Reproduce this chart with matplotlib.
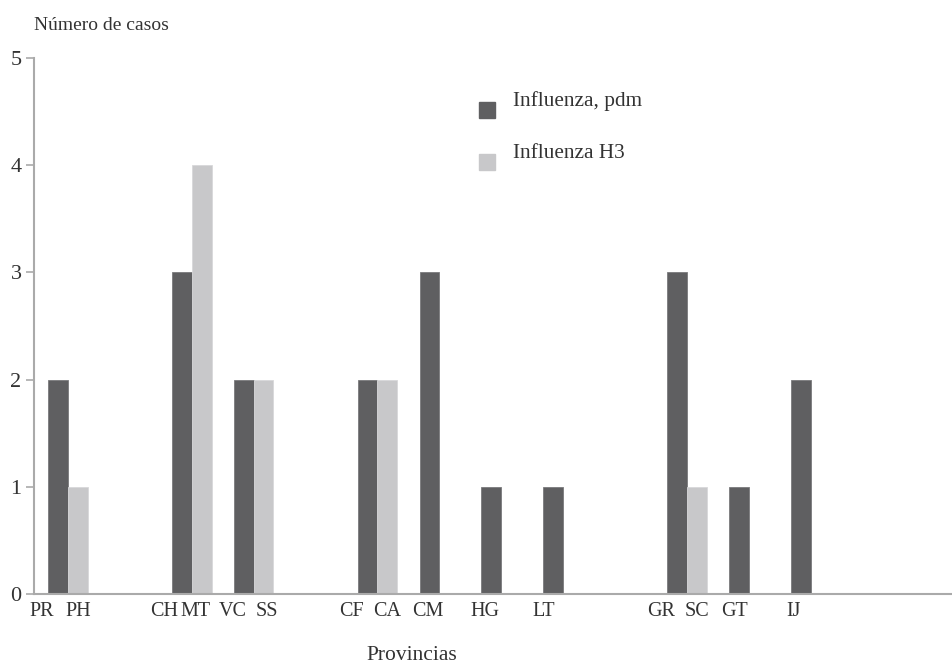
import matplotlib
matplotlib.use("Agg")
import matplotlib.pyplot as plt
from matplotlib.patches import Rectangle

plt.rcParams['font.family'] = ['Liberation Serif', 'DejaVu Serif']

# Data
group_pos = [0, 2, 3, 5, 6, 7, 8, 10, 11, 12]
pdm = [2, 3, 2, 2, 3, 1, 1, 3, 1, 2]
h3 = [1, 4, 2, 2, 0, 0, 0, 1, 0, 0]
tick_labels = ["PR", "PH", "CH", "MT", "VC", "SS", "CF", "CA", "CM", "HG", "LT", "GR", "SC", "GT", "IJ"]
tick_pos = [-0.42, 0.16, 1.55, 2.06, 2.66, 3.21, 4.58, 5.15, 5.82, 6.74, 7.69, 9.58, 10.16, 10.77, 11.73]
series_names = ["Influenza, pdm", "Influenza H3"]

dark = "#5f5f61"
light = "#c8c8ca"
axis_col = "#aaaaaa"
text_col = "#333333"

W, H = 953, 666
fig = plt.figure(figsize=(W / 100, H / 100), dpi=100)
ax = fig.add_axes([34 / W, 1 - 594 / H, 1 - 34 / W, (594 - 58) / H])

bw = 0.32
ax.bar([p - bw / 2 for p in group_pos], pdm, width=bw, color=dark, edgecolor="#7a7a7c", linewidth=0.6, zorder=2)
hx = [p + bw / 2 for p, v in zip(group_pos, h3) if v > 0]
hv = [v for v in h3 if v > 0]
ax.bar(hx, hv, width=bw, color=light, edgecolor="#d8d8da", linewidth=0.6, zorder=2)

ax.set_xlim(-0.55, 14.3)
ax.set_ylim(0, 5)
ax.set_yticks([0, 1, 2, 3, 4, 5])
ax.set_xticks(tick_pos)
ax.set_xticklabels(tick_labels)
ax.tick_params(axis='x', length=0, pad=6, labelsize=14.5, labelcolor=text_col)
ax.tick_params(axis='y', length=6, width=1.2, color=axis_col, pad=3, labelsize=16, labelcolor=text_col)
for s in ["top", "right"]:
    ax.spines[s].set_visible(False)
for s in ["left", "bottom"]:
    ax.spines[s].set_color(axis_col)
    ax.spines[s].set_linewidth(1.5)

fig.text(34 / W, 1 - 25 / H, "Número de casos", fontsize=14, color=text_col, va="center", ha="left")
fig.text(412 / W, 1 - 660 / H, "Provincias", fontsize=15.5, color=text_col, va="baseline", ha="center")

# Legend
for i, (name, col) in enumerate(zip(series_names, [dark, light])):
    yc = 110 + i * 52
    fig.patches.append(Rectangle((479 / W, 1 - (yc + 8) / H), 16 / W, 16 / H,
                                 transform=fig.transFigure, color=col, figure=fig))
    fig.text(513 / W, 1 - (yc - 9) / H, name, fontsize=15.3, color=text_col, va="center", ha="left")

fig.savefig("out.png", dpi=100)
